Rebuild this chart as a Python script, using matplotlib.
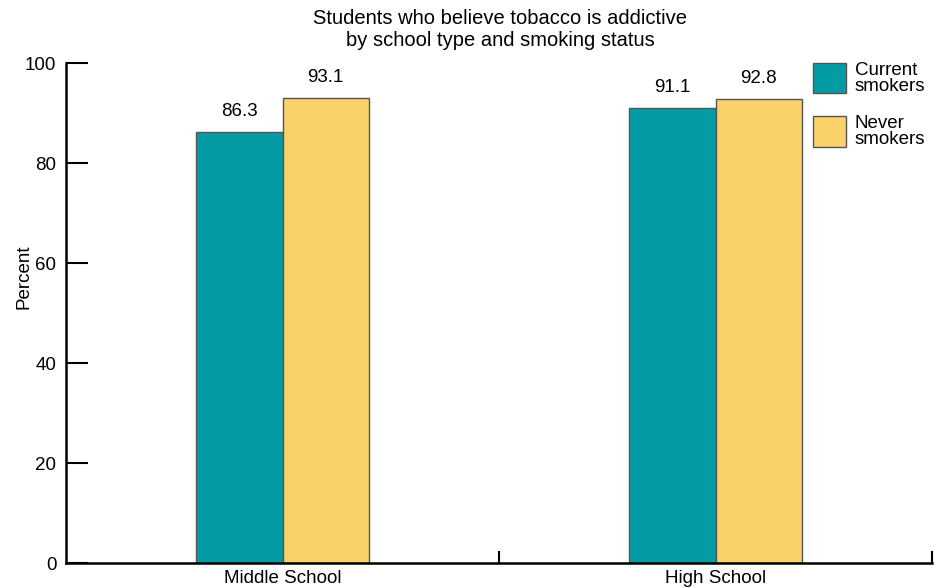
import matplotlib
matplotlib.use("Agg")
import matplotlib.pyplot as plt
import numpy as np
from matplotlib.patches import Rectangle

plt.rcParams['font.family'] = ['Liberation Sans', 'DejaVu Sans']

categories = ["Middle School", "High School"]
series_names = ["Current\nsmokers", "Never\nsmokers"]
current = [86.3, 91.1]
never = [93.1, 92.8]
yticks = [0, 20, 40, 60, 80, 100]
colors = ["#039CA4", "#F9D269"]

FS = 13.5

fig = plt.figure(figsize=(9.34, 5.88), dpi=100)
ax = fig.add_axes([66/934, 1-563/588, (932-66)/934, (563-63)/588])

x = np.arange(len(categories))
w = 0.2
for vals, off, col in [(current, -w/2, colors[0]), (never, w/2, colors[1])]:
    bars = ax.bar(x + off, vals, width=w, color=col, edgecolor="#555555", linewidth=1.0, zorder=2)
    for b, v in zip(bars, vals):
        ax.annotate(f"{v}", (b.get_x() + b.get_width()/2, v), xytext=(0, 14.5),
                    textcoords="offset points", ha="center", va="center", fontsize=FS)

ax.set_xlim(-0.5, 1.5)
ax.set_ylim(0, 100)
ax.set_yticks(yticks)
ax.tick_params(axis='y', direction='in', length=16, width=1.5, labelsize=FS, pad=7)
ax.set_xticks(x)
ax.set_xticklabels(categories)
ax.tick_params(axis='x', which='major', length=0, labelsize=FS, pad=5)
ax.set_xticks([0.5, 1.5], minor=True)
ax.tick_params(axis='x', which='minor', direction='in', length=9, width=1.5)
for s in ['top', 'right']:
    ax.spines[s].set_visible(False)
for s in ['left', 'bottom']:
    ax.spines[s].set_linewidth(1.8)

fig.text(24/934, 1-277/588, "Percent", rotation=90, ha="center", va="center", fontsize=FS)

fig.text(500/934, 1-29.5/588, "Students who believe tobacco is addictive\nby school type and smoking status",
         ha="center", va="center", fontsize=14.5, linespacing=1.25)

# legend
for i, (name, col) in enumerate(zip(series_names, colors)):
    y0 = 93.3 + i*53.4
    fig.patches.append(Rectangle((813/934, 1-y0/588), 33/934, 30.5/588, transform=fig.transFigure,
                                 facecolor=col, edgecolor="#555555", linewidth=1.0))
    fig.text(855/934, 1-(y0-15)/588, name, ha="left", va="center", fontsize=13.5, linespacing=0.95)

fig.savefig("out.png", dpi=100)
